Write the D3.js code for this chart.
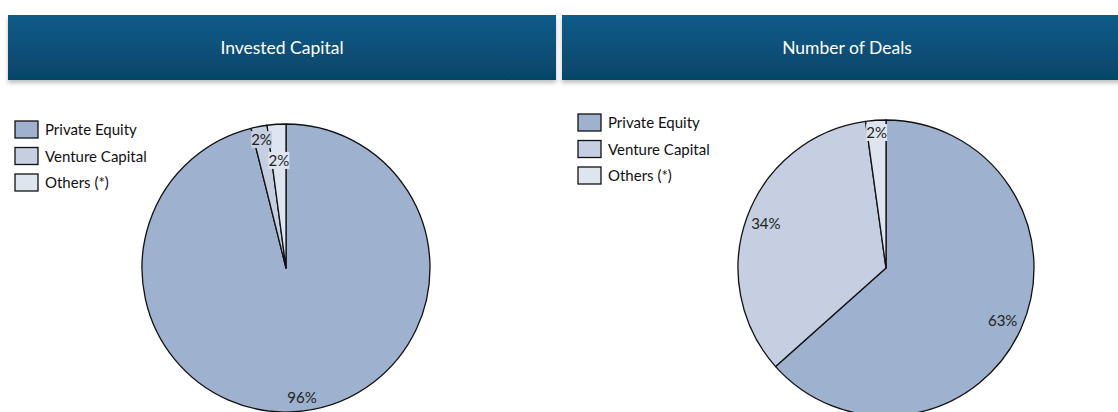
<!DOCTYPE html>
<html><head><meta charset="utf-8">
<script src="https://cdn.jsdelivr.net/npm/d3@7"></script>
<style>body{margin:0;background:#fff;}svg{display:block;}</style>
</head><body>
<svg id="c" width="1118" height="412"></svg>
<script>
const categories = ["Private Equity", "Venture Capital", "Others (*)"];
const investedCapital = [96.1, 1.8, 2.1];
const numberOfDeals = [63.4, 34.4, 2.2];
const panelTitles = ["Invested Capital", "Number of Deals"];
const colors = ["#9eb1cf", "#c5cfe1", "#dfe5ef"];

const svg = d3.select("#c");
const defs = svg.append("defs");
const grad = defs.append("linearGradient").attr("id","hg").attr("x1",0).attr("y1",0).attr("x2",0).attr("y2",1);
grad.append("stop").attr("offset","0%").attr("stop-color","#0b5c8a");
grad.append("stop").attr("offset","100%").attr("stop-color","#064568");
const sh = defs.append("filter").attr("id","sh").attr("x","-5%").attr("y","-20%").attr("width","110%").attr("height","160%");
sh.append("feDropShadow").attr("dx",0).attr("dy",3).attr("stdDeviation",2).attr("flood-color","#000").attr("flood-opacity",0.25);

const panels = [
  {title: panelTitles[0], values: investedCapital, hx: 8, hw: 548, tx: 282, legX: 15, legY: 121, cx: 286, cy: 268, r: 144},
  {title: panelTitles[1], values: numberOfDeals, hx: 562, hw: 560, tx: 847, legX: 578, legY: 114, cx: 886, cy: 268, r: 148}
];

panels.forEach(p => {
  const g = svg.append("g");
  g.append("rect").attr("x", p.hx).attr("y", 15).attr("width", p.hw).attr("height", 65)
    .attr("fill", "url(#hg)").attr("filter", "url(#sh)");
  g.append("text").attr("x", p.tx).attr("y", 54).attr("text-anchor","middle")
    .attr("fill","#fff").attr("font-family","Lato, 'Open Sans', sans-serif").attr("font-weight",400).attr("font-size",17.5)
    .text(p.title);

  // legend
  const leg = g.append("g").attr("transform", `translate(${p.legX},${p.legY})`);
  categories.forEach((c, i) => {
    leg.append("rect").attr("x",0).attr("y", i*26.5).attr("width",23).attr("height",17)
      .attr("fill", colors[i]).attr("stroke","#111").attr("stroke-width",1.3);
    leg.append("text").attr("x",30).attr("y", i*26.5 + 14)
      .attr("font-family","Lato, 'Noto Sans', sans-serif").attr("font-size",15).attr("fill","#111").text(c);
  });

  // pie
  const pie = d3.pie().sort(null).value(d => d);
  const arcs = pie(p.values);
  const arc = d3.arc().innerRadius(0).outerRadius(p.r);
  const pg = g.append("g").attr("transform", `translate(${p.cx},${p.cy})`);
  pg.selectAll("path").data(arcs).enter().append("path")
    .attr("d", arc).attr("fill", (d,i) => colors[i])
    .attr("stroke","#111").attr("stroke-width",1.3).attr("stroke-linejoin","round");

  // labels (inside end, with overlap avoidance)
  const placed = [];
  const bh = 17;
  arcs.forEach((a, i) => {
    const text = Math.round(a.value) + "%";
    const mid = (a.startAngle + a.endAngle) / 2;
    const ux = Math.sin(mid), uy = -Math.cos(mid);
    const w = text.length === 2 ? 21 : 30;
    let d = p.r - (Math.abs(ux)*w/2 + Math.abs(uy)*bh/2) - 3;
    let x, y;
    const overlaps = () => placed.some(b => Math.abs(b.x - x) < (b.w + w)/2 && Math.abs(b.y - y) < bh + 3);
    while (true) {
      x = ux*d; y = uy*d;
      if (!overlaps() || d < 20) break;
      d -= 1;
    }
    placed.push({x, y, w});
    pg.append("rect").attr("x", x - w/2).attr("y", y - bh/2).attr("width", w).attr("height", bh)
      .attr("fill", colors[i]);
    pg.append("text").attr("x", x).attr("y", y + 5.5).attr("text-anchor","middle")
      .attr("font-family","Lato, 'Noto Sans', sans-serif").attr("font-size",15).attr("fill","#222").text(text);
  });
});
</script>
</body></html>
